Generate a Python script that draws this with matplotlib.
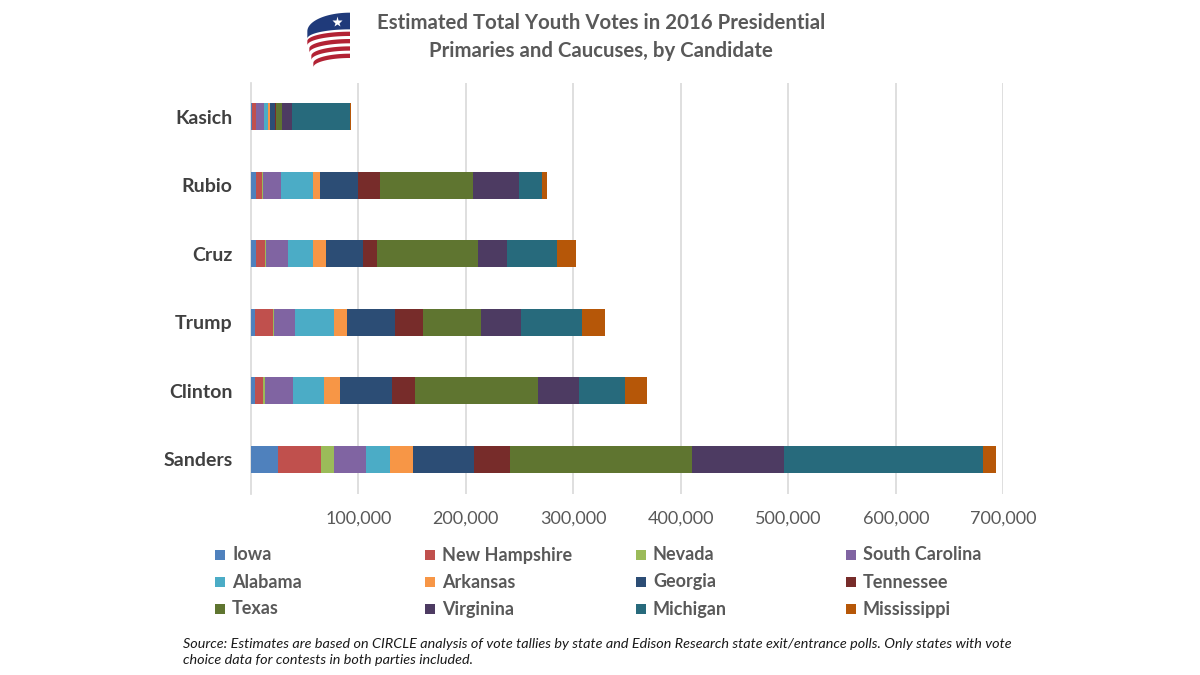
import numpy as np
import matplotlib
matplotlib.use("Agg")
import matplotlib.pyplot as plt
from matplotlib.patches import Rectangle, Polygon
from matplotlib.ticker import FuncFormatter

plt.rcParams['font.family'] = ['Lato', 'DejaVu Sans']

# ---------------- data ----------------
candidates = ["Kasich", "Rubio", "Cruz", "Trump", "Clinton", "Sanders"]
states = ["Iowa", "New Hampshire", "Nevada", "South Carolina",
          "Alabama", "Arkansas", "Georgia", "Tennessee",
          "Texas", "Virginina", "Michigan", "Mississippi"]
# values per state, in order of candidates (Kasich .. Sanders)
iowa           = [900, 4700, 5300, 4000, 4300, 25000]
new_hampshire  = [3800, 5500, 8000, 16200, 7200, 40300]
nevada         = [300, 1300, 700, 1800, 2100, 12100]
south_carolina = [7400, 16700, 20700, 19200, 25800, 29600]
alabama        = [3700, 29200, 23300, 36600, 28500, 22700]
arkansas       = [1600, 6800, 11800, 11800, 15500, 20900]
georgia        = [4600, 35600, 34400, 45000, 48400, 57000]
tennessee      = [1300, 20200, 13600, 26000, 21400, 33800]
texas          = [5200, 86800, 93100, 53400, 114100, 168700]
virginia       = [9300, 42800, 27200, 36900, 37800, 86200]
michigan       = [54300, 21100, 46600, 57600, 43100, 184400]
mississippi    = [1200, 4600, 17600, 21400, 20500, 12100]

series = [iowa, new_hampshire, nevada, south_carolina, alabama, arkansas,
          georgia, tennessee, texas, virginia, michigan, mississippi]
colors = ["#4F81BD", "#C0504D", "#9BBB59", "#8064A2",
          "#4BACC6", "#F79646", "#2C4D75", "#772C2A",
          "#5F7530", "#4D3B62", "#276A7C", "#B65708"]
x_ticks = [100000, 200000, 300000, 400000, 500000, 600000, 700000]

title_text = "Estimated Total Youth Votes in 2016 Presidential\nPrimaries and Caucuses, by Candidate"
source_text = ("Source: Estimates are based on CIRCLE analysis of vote tallies by state and Edison Research state exit/entrance polls. Only states with vote\n"
               "choice data for contests in both parties included.")

# ---------------- figure ----------------
W, H = 1200, 675
fig = plt.figure(figsize=(12, 6.75), dpi=100)
fig.patch.set_facecolor("white")

ax_left, ax_right = 250.8, 1003.3
ax_top, ax_bottom = 82.5, 493.5
ax = fig.add_axes([ax_left / W, 1 - ax_bottom / H,
                   (ax_right - ax_left) / W, (ax_bottom - ax_top) / H])

y = np.arange(len(candidates))
left = np.zeros(len(candidates))
for vals, col, name in zip(series, colors, states):
    ax.barh(y, vals, left=left, height=0.4, color=col, edgecolor="none",
            label=name, zorder=3)
    left += np.array(vals)

ax.set_ylim(len(candidates) - 0.5, -0.5)
ax.set_xlim(0, 700000)
ax.set_yticks(y)
ax.set_yticklabels(candidates, fontsize=14, fontweight="bold", color="#404040")
ax.set_xticks(x_ticks)
ax.xaxis.set_major_formatter(FuncFormatter(lambda v, p: f"{int(v):,}"))
for lab in ax.get_xticklabels():
    lab.set_fontsize(13)
    lab.set_color("#595959")
ax.tick_params(axis="y", length=0, pad=13)
ax.tick_params(axis="x", length=0, pad=12)
ax.grid(axis="x", color="#D9D9D9", linewidth=1.2, zorder=0)
for s in ["top", "right", "bottom"]:
    ax.spines[s].set_visible(False)
ax.spines["left"].set_color("#D9D9D9")
ax.spines["left"].set_linewidth(1.2)

# ---------------- title ----------------
fig.text(601 / W, 1 - 37 / H, title_text, ha="center", va="center",
         fontsize=14.7, fontweight="bold", color="#595959", linespacing=1.45)

# ---------------- logo ----------------
lax = fig.add_axes([300 / W, 1 - 72 / H, 52 / W, 64 / H])
lax.set_xlim(0, 156)
lax.set_ylim(192, 0)
lax.axis("off")
phi = np.linspace(0, np.pi / 2, 50)
# blue band
top_c = np.column_stack([150 - 128 * np.sin(phi), 70 - 56 * np.cos(phi)])
bot_c = np.column_stack([150 - 128 * np.sin(phi), 92 - 28 * np.cos(phi)])
lax.add_patch(Polygon(np.vstack([top_c, bot_c[::-1]]), closed=True,
                      color="#1F3A7A", lw=0))
# red stripes
for k in range(4):
    yr = 71 + 22 * k
    a = 128 - 6 * k
    b = 28
    up = np.column_stack([150 - a * np.sin(phi), yr + b * (1 - np.cos(phi))])
    lo = np.column_stack([150 - a * np.sin(phi), yr + 13 + b * (1 - np.cos(phi))])
    lax.add_patch(Polygon(np.vstack([up, lo[::-1]]), closed=True,
                          color="#B22234", lw=0))
lax.plot([110], [42], marker="*", color="white", markersize=8, mec="none")

# ---------------- legend ----------------
col_x = [215, 425, 636, 846]
row_y = [555, 582, 609]
for i, (name, col) in enumerate(zip(states, colors)):
    r, c = divmod(i, 4)
    fig.add_artist(Rectangle((col_x[c] / W, 1 - (row_y[r] + 5) / H),
                             10 / W, 10 / H, transform=fig.transFigure,
                             facecolor=col, edgecolor="none"))
    fig.text((col_x[c] + 17) / W, 1 - row_y[r] / H, name, ha="left",
             va="center", fontsize=13, fontweight="bold", color="#595959")

# ---------------- source ----------------
fig.text(183 / W, 1 - 652 / H, source_text, ha="left", va="center",
         fontsize=10.4, fontstyle="italic", color="#1a1a1a", linespacing=1.4)

fig.savefig("out.png", dpi=100, facecolor="white")
